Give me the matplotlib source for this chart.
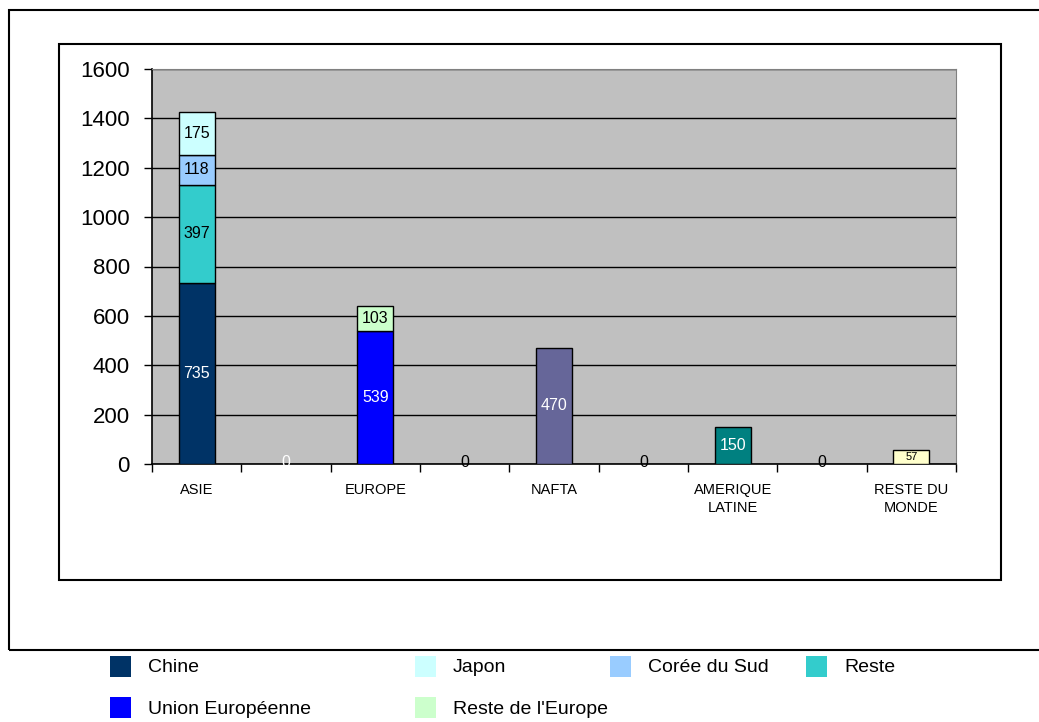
import numpy as np
import matplotlib
matplotlib.use("Agg")
import matplotlib.pyplot as plt
from matplotlib.patches import Rectangle

plt.rcParams['font.family'] = ['Liberation Sans', 'DejaVu Sans']

# donnees
categories = ["ASIE", "", "EUROPE", "", "NAFTA", "", "AMERIQUE\nLATINE", "", "RESTE DU\nMONDE"]

asie_series = ["Chine", "Reste", "Corée du Sud", "Japon"]
asie_values = [735, 397, 118, 175]
asie_colors = ["#003366", "#33CCCC", "#99CCFF", "#CCFFFF"]
asie_txt = ["white", "black", "black", "black"]

europe_series = ["Union Européenne", "Reste de l'Europe"]
europe_values = [539, 103]
europe_colors = ["#0000FF", "#CCFFCC"]
europe_txt = ["white", "black"]

autres_idx = [4, 6, 8]
autres_values = [470, 150, 57]
autres_colors = ["#666699", "#008080", "#FFFFCC"]
autres_txt = ["white", "white", "black"]
autres_size = [11.5, 11.5, 8]

vides_idx = [1, 3, 5, 7]
vides_values = [0, 0, 0, 0]
vides_txt = ["white", "black", "black", "black"]

legend_names = ["Chine", "Japon", "Corée du Sud", "Reste", "Union Européenne", "Reste de l'Europe"]
legend_colors = ["#003366", "#CCFFFF", "#99CCFF", "#33CCCC", "#0000FF", "#CCFFCC"]

W, H = 1039, 722
fig = plt.figure(figsize=(W/100, H/100), dpi=100)
ax = fig.add_axes([152/W, 1-464/H, (956-152)/W, (464-69)/H])
ax.set_facecolor("#C0C0C0")

bw = 0.40

def label(x, y, v, c, s=11.5):
    ax.text(x, y, str(v), ha="center", va="center", color=c, fontsize=s, zorder=5)

# ASIE empile
bottom = 0
for v, col, tc in zip(asie_values, asie_colors, asie_txt):
    ax.bar(0, v, bw, bottom=bottom, color=col, edgecolor="black", linewidth=1, zorder=3)
    label(0, bottom + v/2, v, tc)
    bottom += v

bottom = 0
for v, col, tc in zip(europe_values, europe_colors, europe_txt):
    ax.bar(2, v, bw, bottom=bottom, color=col, edgecolor="black", linewidth=1, zorder=3)
    label(2, bottom + v/2, v, tc)
    bottom += v

for i, v, col, tc, s in zip(autres_idx, autres_values, autres_colors, autres_txt, autres_size):
    ax.bar(i, v, bw, color=col, edgecolor="black", linewidth=1, zorder=3)
    label(i, v/2, v, tc, s)

for i, v, tc in zip(vides_idx, vides_values, vides_txt):
    label(i, v + 8, v, tc)

ax.set_xlim(-0.5, len(categories) - 0.5)
ax.set_ylim(0, 1600)
ax.set_yticks(np.arange(0, 1601, 200))
ax.yaxis.grid(True, color="black", linewidth=1)
ax.set_axisbelow(True)
ax.tick_params(axis="y", labelsize=16, length=6, width=1, pad=10, direction="out")

ax.set_xticks(np.arange(-0.5, len(categories), 1))
ax.set_xticklabels([])
ax.tick_params(axis="x", which="major", length=6, width=1, direction="out")
ax.set_xticks(np.arange(len(categories)), minor=True)
ax.set_xticklabels(categories, minor=True, fontsize=10.5, linespacing=1.3)
ax.tick_params(axis="x", which="minor", length=0, pad=14)

for s in ["top", "right"]:
    ax.spines[s].set_color("#808080")
for s in ["left", "bottom"]:
    ax.spines[s].set_color("black")
    ax.spines[s].set_linewidth(1.2)

# cadres
fig.add_artist(Rectangle((9/W, 1-650/H), 1.1, (650-10)/H, transform=fig.transFigure,
                         fill=False, edgecolor="black", linewidth=1.5))
fig.add_artist(Rectangle((59/W, 1-580/H), (1001-59)/W, (580-44)/H, transform=fig.transFigure,
                         fill=False, edgecolor="black", linewidth=1.5))

# legende
leg_x = [110, 415, 610, 806, 110, 415]
leg_y = [667, 667, 667, 667, 708, 708]
for name, col, lx, ly in zip(legend_names, legend_colors, leg_x, leg_y):
    fig.add_artist(Rectangle((lx/W, 1-(ly+10)/H), 21/W, 21/H, transform=fig.transFigure,
                             facecolor=col, edgecolor="none"))
    fig.text((lx+38)/W, 1-(ly+1)/H, name, fontsize=14, va="center", ha="left")

fig.savefig("out.png", dpi=100)
